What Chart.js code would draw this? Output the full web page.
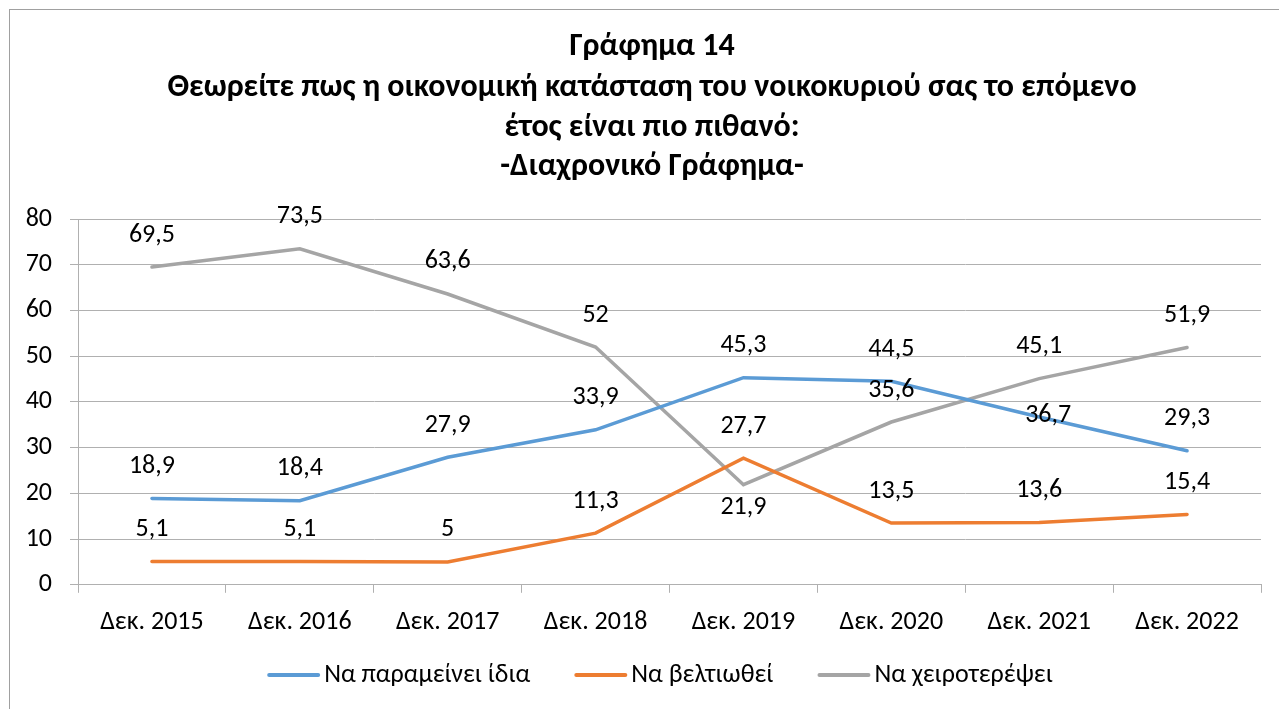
<!DOCTYPE html>
<html lang="el">
<head>
<meta charset="utf-8">
<title>Γράφημα 14</title>
<script src="https://cdn.jsdelivr.net/npm/chart.js@4.4.1/dist/chart.umd.min.js"></script>
<style>
  html, body { margin: 0; padding: 0; background: #fff; }
  #wrap { position: relative; width: 1279px; height: 709px; }
</style>
</head>
<body>
<div id="wrap"><canvas id="chart"></canvas></div>
<script>
const categories = ["Δεκ. 2015", "Δεκ. 2016", "Δεκ. 2017", "Δεκ. 2018", "Δεκ. 2019", "Δεκ. 2020", "Δεκ. 2021", "Δεκ. 2022"];
const seriesNames = ["Να παραμείνει ίδια", "Να βελτιωθεί", "Να χειροτερέψει"];
const sameValues = [18.9, 18.4, 27.9, 33.9, 45.3, 44.5, 36.7, 29.3];
const betterValues = [5.1, 5.1, 5, 11.3, 27.7, 13.5, 13.6, 15.4];
const worseValues = [69.5, 73.5, 63.6, 52, 21.9, 35.6, 45.1, 51.9];
const titleLines = ["Γράφημα 14", "Θεωρείτε πως η οικονομική κατάσταση του νοικοκυριού σας το επόμενο", "έτος είναι πιο πιθανό:", "-Διαχρονικό Γράφημα-"];

// where each value label sits relative to its point
const labelPlace = [
  ["above", "above", "above", "above", "above", "above", "center", "above"],
  ["above", "above", "above", "above", "above", "above", "above", "above"],
  ["above", "above", "above", "above", "below", "above", "above", "above"]
];

const colors = ["#5b9bd5", "#ed7d31", "#a5a5a5"];
const FONT = "Carlito, 'Open Sans', sans-serif";

// outer frame + title, drawn by hand so the title can sit off the canvas centre
const frame = {
  id: "frame",
  beforeDraw(chart) {
    const ctx = chart.ctx;
    ctx.save();
    ctx.strokeStyle = "#a0a0a0";
    ctx.lineWidth = 1;
    ctx.strokeRect(9.5, 9.5, 1400, 800);
    ctx.fillStyle = "#000";
    ctx.font = "bold 32px " + FONT;
    ctx.textAlign = "center";
    ctx.textBaseline = "middle";
    const ys = [47, 88, 128, 167];
    titleLines.forEach((t, i) => ctx.fillText(t, 652, ys[i]));
    ctx.restore();
  }
};

// Excel-like legend: short line, tight gap to the text, wide gaps between items
const bottomLegend = {
  id: "bottomLegend",
  afterDraw(chart) {
    const ctx = chart.ctx;
    const sets = chart.data.datasets;
    ctx.save();
    ctx.font = "26px " + FONT;
    const lineW = 53, gap = 4, between = 44, y = 675;
    const widths = sets.map((ds) => lineW + gap + ctx.measureText(ds.label).width);
    const total = widths.reduce((a, b) => a + b, 0) + between * (sets.length - 1);
    let x = 660 - total / 2;
    ctx.textBaseline = "middle";
    ctx.textAlign = "left";
    sets.forEach((ds, i) => {
      ctx.strokeStyle = ds.borderColor;
      ctx.lineWidth = 4;
      ctx.lineCap = "round";
      ctx.beginPath();
      ctx.moveTo(x + 2, y);
      ctx.lineTo(x + lineW - 2, y);
      ctx.stroke();
      ctx.fillStyle = "#000";
      ctx.fillText(ds.label, x + lineW + gap, y);
      x += widths[i] + between;
    });
    ctx.restore();
  }
};

const valueLabels = {
  id: "valueLabels",
  afterDatasetsDraw(chart) {
    const ctx = chart.ctx;
    ctx.save();
    ctx.font = "26px " + FONT;
    ctx.fillStyle = "#000";
    ctx.textAlign = "center";
    ctx.textBaseline = "middle";
    chart.data.datasets.forEach((ds, i) => {
      chart.getDatasetMeta(i).data.forEach((pt, j) => {
        const place = labelPlace[i][j];
        let dx = 0, dy = -32;
        if (place === "below") dy = 23;
        if (place === "center") { dx = 9; dy = -1; }
        const txt = String(ds.data[j]).replace(".", ",");
        ctx.fillText(txt, pt.x + dx, pt.y + dy);
      });
    });
    ctx.restore();
  }
};

const makeSet = (label, data, color) => ({
  label,
  data,
  borderColor: color,
  backgroundColor: color,
  borderWidth: 3.5,
  pointRadius: 0,
  pointHoverRadius: 0,
  tension: 0,
  borderCapStyle: "round"
});

new Chart(document.getElementById("chart"), {
  type: "line",
  data: {
    labels: categories,
    datasets: [
      makeSet(seriesNames[0], sameValues, colors[0]),
      makeSet(seriesNames[1], betterValues, colors[1]),
      makeSet(seriesNames[2], worseValues, colors[2])
    ]
  },
  options: {
    responsive: true,
    maintainAspectRatio: false,
    animation: false,
    layout: { padding: { left: 10, right: 18, top: 219, bottom: 57 } },
    scales: {
      x: {
        offset: true,
        grid: { offset: true, drawOnChartArea: false, tickLength: 8, color: "#b0b0b0" },
        border: { color: "#b0b0b0" },
        ticks: { color: "#000", font: { family: FONT, size: 26 }, padding: 14, maxRotation: 0 }
      },
      y: {
        min: 0,
        max: 80,
        afterFit(scale) { scale.width = 68; },
        grid: { tickLength: 8, color: "#b0b0b0" },
        border: { color: "#b0b0b0" },
        ticks: { stepSize: 10, color: "#000", font: { family: FONT, size: 26 }, padding: 18 }
      }
    },
    plugins: {
      tooltip: { enabled: false },
      title: { display: false },
      legend: { display: false }
    }
  },
  plugins: [frame, bottomLegend, valueLabels]
});
</script>
</body>
</html>
